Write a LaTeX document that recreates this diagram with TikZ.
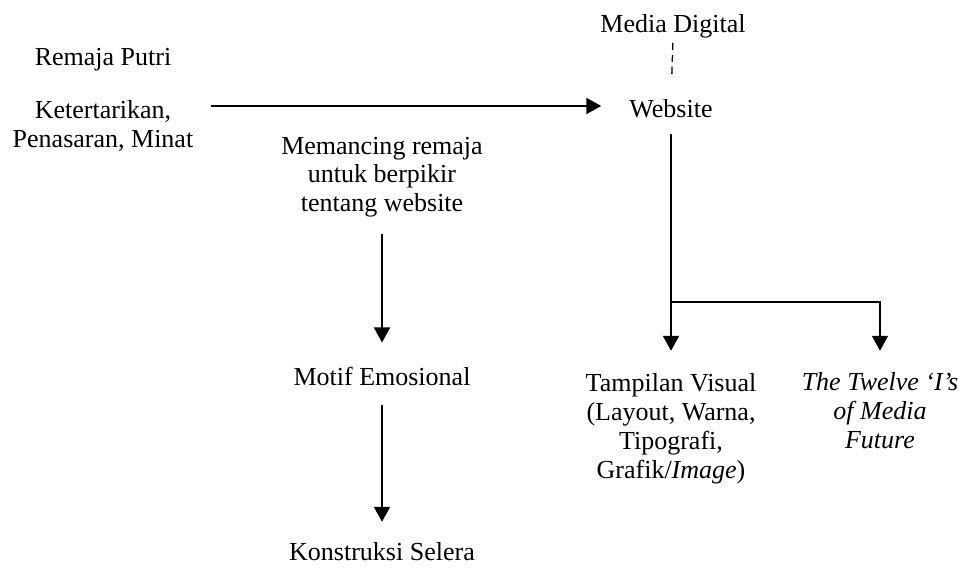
\documentclass[tikz,border=0pt]{standalone}
\usepackage{fontspec}
\setmainfont{Liberation Serif}
\usetikzlibrary{arrows.meta}
\newcommand{\diagfont}{\fontsize{26}{29}\selectfont}
\begin{document}
\begin{tikzpicture}[x=1pt,y=-1pt,
  lbl/.style={inner sep=0pt, anchor=base, align=center, font=\diagfont},
  link/.style={line width=2pt},
  flow/.style={link, -{Triangle[length=15pt,width=16pt]}},
  weak/.style={line width=1.3pt, dash pattern=on 7pt off 5pt}]
\useasboundingbox (0,0) rectangle (969,572);

% texts (base anchor = baseline of the last line)
\node[lbl] (media)   at (673,33)  {Media Digital};
\node[lbl] (web)     at (671,118) {Website};
\node[lbl] (remaja)  at (103,66)  {Remaja Putri};
\node[lbl] (minat)   at (103,148) {Ketertarikan,\\Penasaran, Minat};
\node[lbl] (pancing) at (382,212) {Memancing remaja\\untuk berpikir\\tentang website};
\node[lbl] (motif)   at (382,385) {Motif Emosional};
\node[lbl] (selera)  at (382,560) {Konstruksi Selera};
\node[lbl] (visual)  at (671,478) {Tampilan Visual\\(Layout, Warna,\\Tipografi,\\Grafik/\textit{Image})};
\node[lbl, font=\diagfont\itshape] (twelve) at (880,448) {The Twelve ‘I’s\\of Media\\Future};

% connectors
\coordinate (arrowfrom) at (211,106);
\coordinate (split) at (671,302);

\draw[weak, shorten <=4pt, shorten >=21pt] (media.south) -- (web.north);
\draw[flow, shorten >=28pt] (arrowfrom) -- (web.west |- arrowfrom);
\draw[flow, shorten <=16pt, shorten >=24pt] (pancing.south) -- (motif.north);
\draw[flow, shorten <=20pt, shorten >=20pt] (motif.south) -- (selera.north);
\draw[link, shorten <=15pt] (web.south) -- (split);
\draw[flow, shorten >=22pt] (split) -- (visual.north);
\draw[flow, shorten >=21pt] (split) -| (twelve.north);
\end{tikzpicture}
\end{document}
